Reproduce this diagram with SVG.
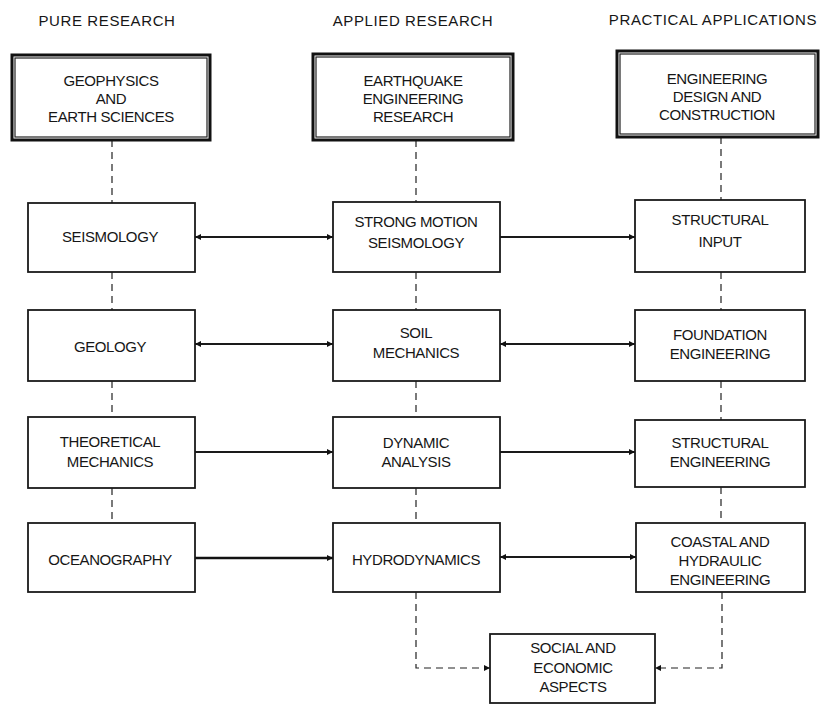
<svg xmlns="http://www.w3.org/2000/svg" width="822" height="705" viewBox="0 0 822 705">
<defs>
<style>
text{font-family:"Liberation Sans",Arial,sans-serif;fill:#161616;text-anchor:middle}
.hdr{font-size:15px;letter-spacing:0.6px}
.lbl{font-size:15px;letter-spacing:-0.4px}
.box{fill:#fff;stroke:#1a1a1a;stroke-width:1.8}
.tbox{fill:#fff;stroke:#111;stroke-width:3}
.tin{fill:none;stroke:#222;stroke-width:1.2}
.dash{fill:none;stroke:#222;stroke-width:1.2;stroke-dasharray:7 5}
.solid{fill:none;stroke:#1a1a1a;stroke-width:1.8}
.thick{fill:none;stroke:#111;stroke-width:2.6}
</style>
<marker id="ah" viewBox="0 0 10 10" refX="10" refY="5" markerWidth="8" markerHeight="6" markerUnits="userSpaceOnUse" orient="auto-start-reverse">
<path d="M0,0 L10,5 L0,10 z" fill="#111"/>
</marker>
</defs>

<g id="headers">
<text class="hdr" x="107" y="26">PURE RESEARCH</text>
<text class="hdr" x="413" y="26">APPLIED RESEARCH</text>
<text class="hdr" x="713" y="25">PRACTICAL APPLICATIONS</text>
</g>

<g id="connectors">
<path class="dash" d="M112,140 V203 M112,272 V310 M112,381 V417 M112,488 V523"/>
<path class="dash" d="M416,140 V202 M416,272 V310 M416,381 V417 M416,488 V523"/>
<path class="dash" d="M721,137 V200 M721,272 V310 M721,381 V420 M721,487 V523"/>
<path class="dash" d="M416,592 V668 H490" marker-end="url(#ah)"/>
<path class="dash" d="M722,592 V668 H655" marker-end="url(#ah)"/>
<path class="solid" d="M195,237 H333" marker-start="url(#ah)" marker-end="url(#ah)"/>
<path class="solid" d="M500,237 H635" marker-end="url(#ah)"/>
<path class="solid" d="M195,344 H333" marker-start="url(#ah)" marker-end="url(#ah)"/>
<path class="solid" d="M500,344 H635" marker-start="url(#ah)" marker-end="url(#ah)"/>
<path class="solid" d="M195,452 H333" marker-end="url(#ah)"/>
<path class="solid" d="M500,452 H635" marker-end="url(#ah)"/>
<path class="thick" d="M195,558 H333" marker-end="url(#ah)"/>
<path class="solid" d="M500,557 H636" marker-start="url(#ah)" marker-end="url(#ah)"/>
</g>

<g id="geophysics">
<rect class="tbox" x="12" y="55" width="198" height="85"/>
<rect class="tin" x="15" y="58" width="192" height="79"/>
<text class="lbl" x="111" y="86">GEOPHYSICS</text>
<text class="lbl" x="111" y="104">AND</text>
<text class="lbl" x="111" y="122">EARTH SCIENCES</text>
</g>
<g id="eq-research">
<rect class="tbox" x="313" y="54" width="200" height="86"/>
<rect class="tin" x="316" y="57" width="194" height="80"/>
<text class="lbl" x="413" y="86">EARTHQUAKE</text>
<text class="lbl" x="413" y="104">ENGINEERING</text>
<text class="lbl" x="413" y="122">RESEARCH</text>
</g>
<g id="eng-design">
<rect class="tbox" x="617" y="51" width="201" height="86"/>
<rect class="tin" x="620" y="54" width="195" height="80"/>
<text class="lbl" x="717" y="84">ENGINEERING</text>
<text class="lbl" x="717" y="102">DESIGN AND</text>
<text class="lbl" x="717" y="120">CONSTRUCTION</text>
</g>

<g id="seismology">
<rect class="box" x="28" y="203" width="167" height="69"/>
<text class="lbl" x="110" y="242">SEISMOLOGY</text>
</g>
<g id="strong-motion">
<rect class="box" x="333" y="202" width="167" height="70"/>
<text class="lbl" x="416" y="227">STRONG MOTION</text>
<text class="lbl" x="416" y="248">SEISMOLOGY</text>
</g>
<g id="structural-input">
<rect class="box" x="635" y="200" width="170" height="72"/>
<text class="lbl" x="720" y="225">STRUCTURAL</text>
<text class="lbl" x="720" y="247">INPUT</text>
</g>

<g id="geology">
<rect class="box" x="28" y="310" width="167" height="71"/>
<text class="lbl" x="110" y="352">GEOLOGY</text>
</g>
<g id="soil-mechanics">
<rect class="box" x="333" y="310" width="167" height="71"/>
<text class="lbl" x="416" y="338">SOIL</text>
<text class="lbl" x="416" y="358">MECHANICS</text>
</g>
<g id="foundation">
<rect class="box" x="635" y="310" width="170" height="71"/>
<text class="lbl" x="720" y="340">FOUNDATION</text>
<text class="lbl" x="720" y="359">ENGINEERING</text>
</g>

<g id="theoretical">
<rect class="box" x="28" y="417" width="167" height="71"/>
<text class="lbl" x="110" y="447">THEORETICAL</text>
<text class="lbl" x="110" y="467">MECHANICS</text>
</g>
<g id="dynamic">
<rect class="box" x="333" y="417" width="167" height="71"/>
<text class="lbl" x="416" y="448">DYNAMIC</text>
<text class="lbl" x="416" y="467">ANALYSIS</text>
</g>
<g id="structural-eng">
<rect class="box" x="635" y="420" width="170" height="67"/>
<text class="lbl" x="720" y="448">STRUCTURAL</text>
<text class="lbl" x="720" y="467">ENGINEERING</text>
</g>

<g id="oceanography">
<rect class="box" x="28" y="523" width="167" height="69"/>
<text class="lbl" x="110" y="565">OCEANOGRAPHY</text>
</g>
<g id="hydrodynamics">
<rect class="box" x="333" y="523" width="167" height="69"/>
<text class="lbl" x="416" y="565">HYDRODYNAMICS</text>
</g>
<g id="coastal">
<rect class="box" x="636" y="523" width="169" height="69"/>
<text class="lbl" x="720" y="547">COASTAL AND</text>
<text class="lbl" x="720" y="566">HYDRAULIC</text>
<text class="lbl" x="720" y="585">ENGINEERING</text>
</g>

<g id="social">
<rect class="box" x="490" y="634" width="165" height="69"/>
<text class="lbl" x="573" y="653">SOCIAL AND</text>
<text class="lbl" x="573" y="673">ECONOMIC</text>
<text class="lbl" x="573" y="692">ASPECTS</text>
</g>
</svg>
